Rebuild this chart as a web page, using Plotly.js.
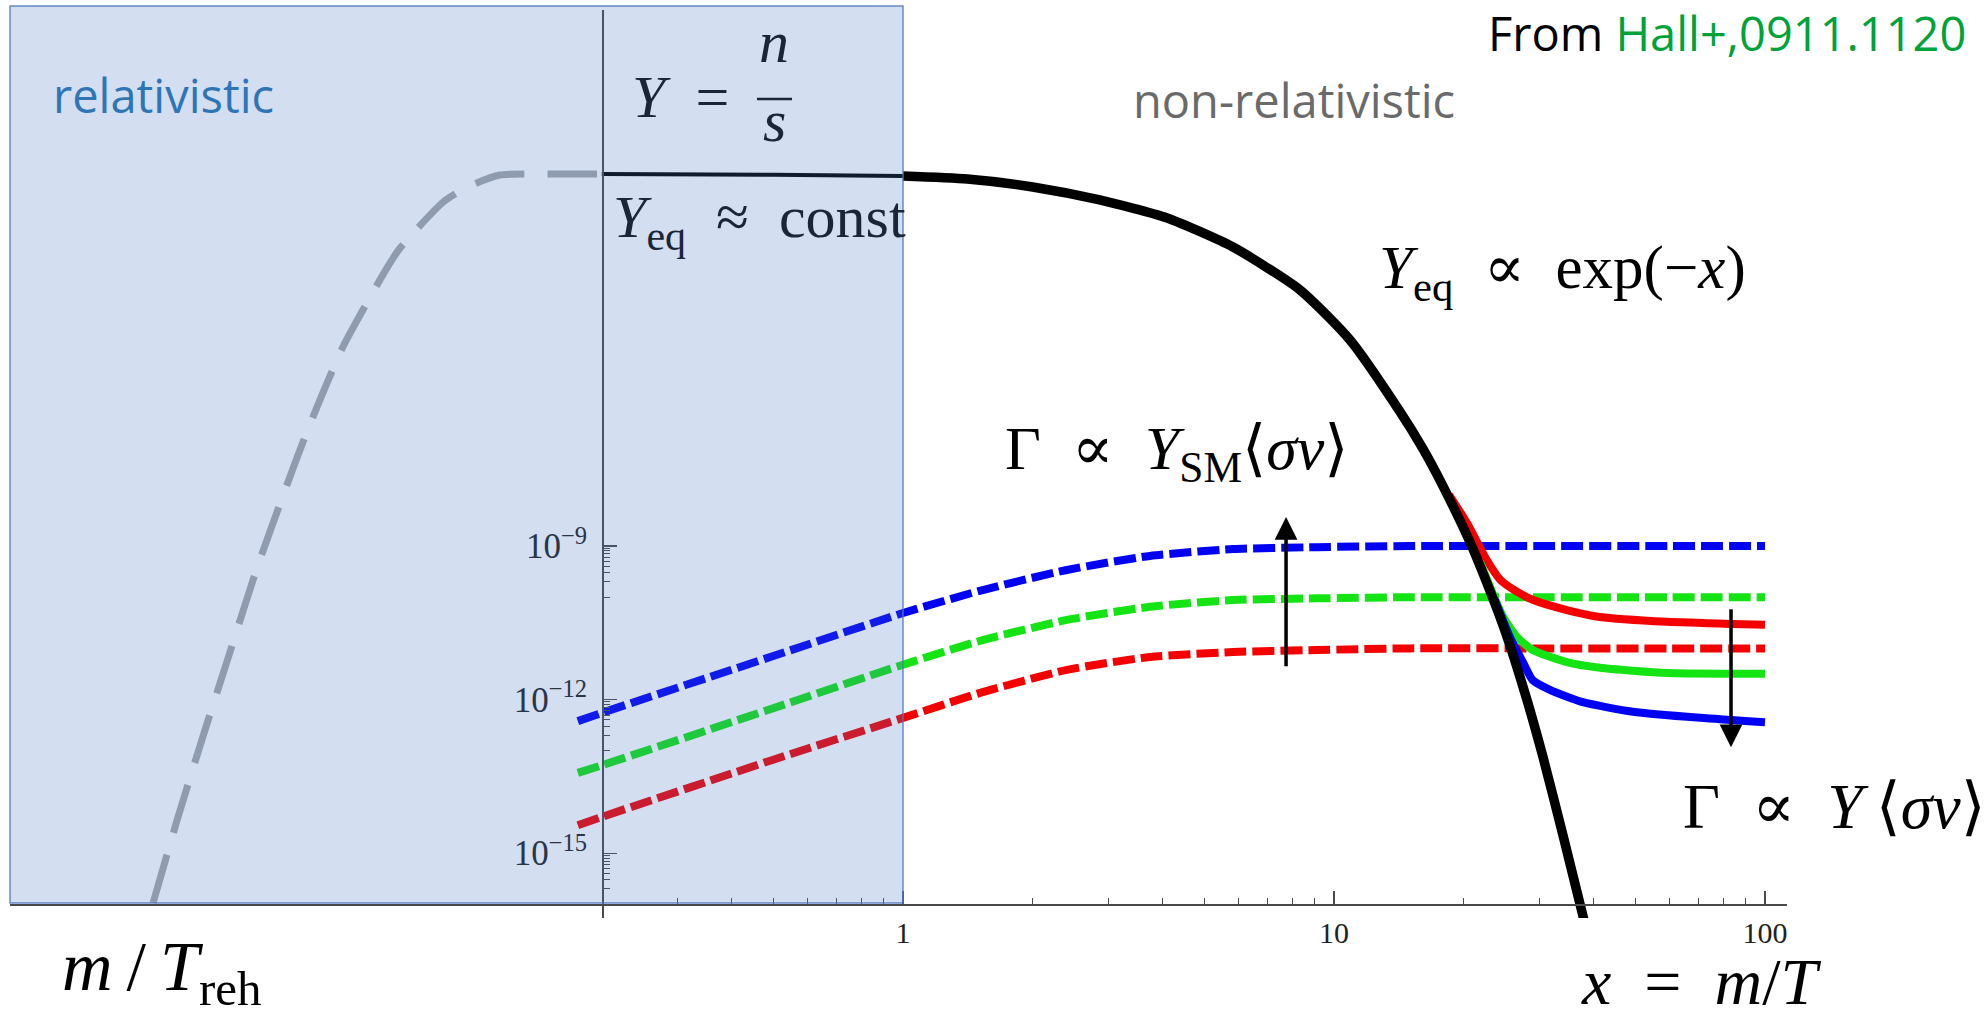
<!DOCTYPE html>
<html>
<head>
<meta charset="utf-8">
<script src="https://cdn.plot.ly/plotly-3.0.1.min.js"></script>
<style>
  html, body { margin: 0; padding: 0; background: #fff; }
  #chart { width: 1985px; height: 1017px; }
</style>
</head>
<body>
<div id="chart"></div>
<script>
// ---- Equilibrium abundance Y_eq(x), x = m/T ----
const eqX = [0.2, 0.5, 1.0, 1.41, 2.0, 2.86, 4.1, 5.83, 8.34, 10.9, 14.2, 16.1, 17.9, 20.7, 22.6, 25.2, 28.0, 30.5, 34.0, 38.2];
const eqY = [1.845e-2, 1.78e-2, 1.687e-2, 1.47e-2, 1.03e-2, 5.73e-3, 2.55e-3, 6.9e-4, 1.0e-4, 1.05e-5, 4.3e-7, 7.8e-8, 1.48e-8, 1.17e-9, 1.95e-10, 1.7e-11, 1.02e-12, 7.9e-14, 2.2e-15, 4.2e-17];

// ---- Relativistic rise after reheating (schematic, dashed grey) ----
const rehX = [0.0182, 0.0207, 0.0238, 0.02745, 0.0317, 0.0372, 0.0414, 0.0502, 0.0635, 0.0681, 0.0857, 0.0974, 0.116, 0.152, 0.2];
const rehY = [1.07e-16, 4.5e-15, 2.0e-13, 8.5e-12, 3.7e-10, 1.55e-8, 1.7e-7, 7.8e-6, 2.7e-4, 6.6e-4, 5.2e-3, 1.02e-2, 1.76e-2, 1.845e-2, 1.845e-2];

// ---- Y_SM <sigma v> curves (dashed), three couplings ----
const smX     = [0.176, 0.2, 0.5, 1.0, 1.53, 2.4, 3.74, 5.83, 9.13, 15, 30, 60, 100];
const smBlue  = [3.8e-13, 5.5e-13, 7.1e-12, 4.9e-11, 1.38e-10, 3.4e-10, 6.4e-10, 8.7e-10, 9.5e-10, 1e-9, 1e-9, 1e-9, 1e-9];
const smGreen = [3.7e-14, 5.2e-14, 6.8e-13, 4.8e-12, 1.45e-11, 3.6e-11, 6.5e-11, 8.8e-11, 9.5e-11, 1e-10, 1e-10, 1e-10, 1e-10];
const smRed   = [3.5e-15, 5.1e-15, 6.7e-14, 4.4e-13, 1.4e-12, 3.8e-12, 6.8e-12, 8.5e-12, 9.3e-12, 1e-11, 1e-11, 1e-11, 1e-11];

// ---- Frozen-out abundances Y(x) (solid) ----
const yRedX   = [18.5, 20.35, 22.6, 24.3, 26.5, 28.9, 34.7, 41.4, 59.3, 84.3, 100];
const yRedY   = [1.0e-8, 2.8e-9, 5.4e-10, 2.2e-10, 1.3e-10, 8.9e-11, 5.6e-11, 4.1e-11, 3.3e-11, 3.0e-11, 2.9e-11];
const yGreenX = [21.8, 24.7, 26.6, 28.9, 34.7, 41.4, 59.3, 84.3, 100];
const yGreenY = [5.0e-10, 4.1e-11, 1.66e-11, 9.3e-12, 5.4e-12, 4.2e-12, 3.3e-12, 3.2e-12, 3.2e-12];
const yBlueX  = [23.6, 25.6, 27.5, 28.9, 31.7, 37.8, 49.4, 70.7, 100];
const yBlueY  = [8.9e-11, 1.66e-11, 5.2e-12, 2.4e-12, 1.55e-12, 8.9e-13, 5.8e-13, 4.4e-13, 3.6e-13];

// ---- Axis ticks ----
const xTickVals  = [1, 10, 100];
const xTickText  = ['1', '10', '100'];
const xMinorVals = [0.3, 0.4, 0.5, 0.6, 0.7, 0.8, 0.9, 2, 3, 4, 5, 6, 7, 8, 9, 20, 30, 40, 50, 60, 70, 80, 90];
const yTickVals  = [1e-15, 1e-12, 1e-9];
const yTickText  = ['10<sup>\u221215</sup>', '10<sup>\u221212</sup>', '10<sup>\u22129</sup>'];
const yMinorVals = [1e-10, 2e-10, 3e-10, 4e-10, 5e-10, 6e-10, 7e-10, 8e-10, 9e-10,
                    1e-13, 2e-13, 3e-13, 4e-13, 5e-13, 6e-13, 7e-13, 8e-13, 9e-13,
                    2e-16, 3e-16, 4e-16, 5e-16, 6e-16, 7e-16, 8e-16, 9e-16];

// ---- Arrows showing the direction of increasing coupling ----
const arrowUp   = { x: 7.74, tail: 4.2e-12, head: 3.7e-9 };
const arrowDown = { x: 83.4, tail: 6.2e-11, head: 1.17e-13 };

// ---- Page frame (pixels) ----
const W = 1985, H = 1017;
const X_ONE_PX = 903, X_DEC_PX = 431;     // x = 1 position, pixels per decade
const Y_E9_PX = 546, Y_DEC_PX = 51.2;     // Y = 1e-9 position, pixels per decade
const lx = px => (px - X_ONE_PX) / X_DEC_PX;
const ly = py => -9 - (py - Y_E9_PX) / Y_DEC_PX;
const plotLeft = 10, plotRight = 1787, plotTop = 10, plotBottom = 918;
const yAxisAt = 602, xAxisAt = 904;

const SANS = 'Open Sans, Noto Sans, sans-serif';
const SERIF = 'Liberation Serif, DejaVu Serif, serif';
const INK_IN_BOX = '#1a2638';

const blue = 'rgb(0,0,245)', green = 'rgb(20,228,20)', red = 'rgb(245,0,0)';

function line(x, y, color, width, dash) {
  return { type: 'scatter', mode: 'lines', x, y, hoverinfo: 'skip',
           line: { color, width, dash: dash || 'solid', shape: 'spline', smoothing: 0.6 } };
}

const thinIdx = eqX.map((v, i) => i).filter(i => eqX[i] <= 1);
const thickIdx = eqX.map((v, i) => i).filter(i => eqX[i] >= 1);

const traces = [
  line(rehX, rehY, '#a6a8a9', 7, '50px,23px'),
  line(smX, smBlue, blue, 8, '22px,6px'),
  line(smX, smGreen, green, 8, '22px,6px'),
  line(smX, smRed, red, 8, '22px,6px'),
  line(yRedX, yRedY, red, 8),
  line(yGreenX, yGreenY, green, 8),
  line(yBlueX, yBlueY, blue, 8),
  line(thinIdx.map(i => eqX[i]), thinIdx.map(i => eqY[i]), '#000', 4),
  line(thickIdx.map(i => eqX[i]), thickIdx.map(i => eqY[i]), '#000', 9.5)
];

function note(text, px, py, size, color, family, xanchor) {
  return { xref: 'paper', yref: 'paper', x: px / W, y: 1 - py / H,
           xanchor: xanchor || 'left', yanchor: 'middle', text, showarrow: false,
           font: { size, color, family } };
}
function arrow(a) {
  return { xref: 'x', yref: 'y', axref: 'x', ayref: 'y',
           x: Math.log10(a.x), y: Math.log10(a.head),
           ax: Math.log10(a.x), ay: Math.log10(a.tail),
           text: '', showarrow: true, arrowhead: 2, arrowsize: 1.3,
           arrowwidth: 3.5, arrowcolor: '#000', standoff: 0, startstandoff: 0,
           font: { size: 10 } };
}

const E = '\u2002';   // en space for math spacing
const T = '\u2009';   // thin space

const annotations = [
  note('relativistic', 51, 95, 47, '#2e75b6', SANS),
  note('non-relativistic', 1131, 100, 47, '#6a6a6a', SANS),
  note('From <span style="color:#00a33a">Hall+,0911.1120</span>', 1968, 33, 47, '#000', SANS, 'right'),
  note('<i>Y</i>' + E + '=', 630, 97, 60, INK_IN_BOX, SERIF),
  note('<i>n</i>', 774, 42, 60, INK_IN_BOX, SERIF, 'center'),
  note('<i>s</i>', 774, 121, 60, INK_IN_BOX, SERIF, 'center'),
  note('<i>Y</i><sub>eq</sub>' + E + '\u2248' + E + 'const', 611, 222, 60, INK_IN_BOX, SERIF),
  note('<i>Y</i><sub>eq</sub>' + E + '\u221D' + E + 'exp(\u2212<i>x</i>)', 1377, 272, 61, '#000', SERIF),
  note('\u0393' + E + '\u221D' + E + '<i>Y</i><sub>SM</sub>\u27E8<i>\u03C3v</i>\u27E9', 1003, 452, 62, '#000', SERIF),
  note('\u0393' + E + '\u221D' + E + '<i>Y</i>\u2009\u27E8<i>\u03C3v</i>\u27E9', 1681, 806, 64, '#000', SERIF),
  note('<i>x</i>' + E + '=' + E + '<i>m</i>/<i>T</i>', 1579, 981, 66, '#000', SERIF),
  note('<i>m</i>' + T + '/' + T + '<i>T</i><sub>reh</sub>', 60, 972, 70, '#000', SERIF),
  arrow(arrowUp),
  arrow(arrowDown)
];

const shapes = [
  // relativistic regime band
  { type: 'rect', xref: 'paper', yref: 'paper', layer: 'above',
    x0: 10 / W, x1: 903 / W, y0: 1 - 903 / H, y1: 1 - 6 / H,
    fillcolor: 'rgba(68,114,196,0.235)', line: { color: 'rgba(80,120,190,0.85)', width: 1.5 } },
  // fraction bar of n/s
  { type: 'line', xref: 'paper', yref: 'paper', layer: 'above',
    x0: 757 / W, x1: 792 / W, y0: 1 - 99 / H, y1: 1 - 99 / H,
    line: { color: INK_IN_BOX, width: 2.5 } }
];

const axisCommon = () => ({
  type: 'log', showgrid: false, zeroline: false, showline: true,
  linecolor: '#4a4a4a', linewidth: 1.5, ticks: 'inside', ticklen: 13,
  tickwidth: 1.2, tickcolor: '#4a4a4a', tickmode: 'array'
});

const layout = {
  width: W, height: H, margin: { l: 0, r: 0, t: 0, b: 0 },
  paper_bgcolor: '#fff', plot_bgcolor: 'rgba(0,0,0,0)', showlegend: false,
  hovermode: false,
  font: { family: SERIF, size: 28, color: '#222' },
  xaxis: Object.assign(axisCommon(), {
    domain: [plotLeft / W, plotRight / W], range: [lx(plotLeft), lx(plotRight)],
    anchor: 'free', position: 1 - xAxisAt / H,
    tickvals: xTickVals, ticktext: xTickText, ticklabelstandoff: 1,
    tickfont: { family: SERIF, size: 30, color: '#222' },
    minor: { tickmode: 'array', tickvals: xMinorVals, ticks: 'inside', ticklen: 6, tickwidth: 1, tickcolor: '#4a4a4a' }
  }),
  yaxis: Object.assign(axisCommon(), {
    domain: [1 - plotBottom / H, 1 - plotTop / H], range: [ly(plotBottom), ly(plotTop)],
    anchor: 'free', position: yAxisAt / W,
    tickvals: yTickVals, ticktext: yTickText, ticklabelstandoff: 8,
    tickfont: { family: SERIF, size: 35, color: '#222' },
    minor: { tickmode: 'array', tickvals: yMinorVals, ticks: 'inside', ticklen: 6, tickwidth: 1, tickcolor: '#4a4a4a' }
  }),
  shapes, annotations
};

Plotly.newPlot('chart', traces, layout, { staticPlot: true, displayModeBar: false });
</script>
</body>
</html>
